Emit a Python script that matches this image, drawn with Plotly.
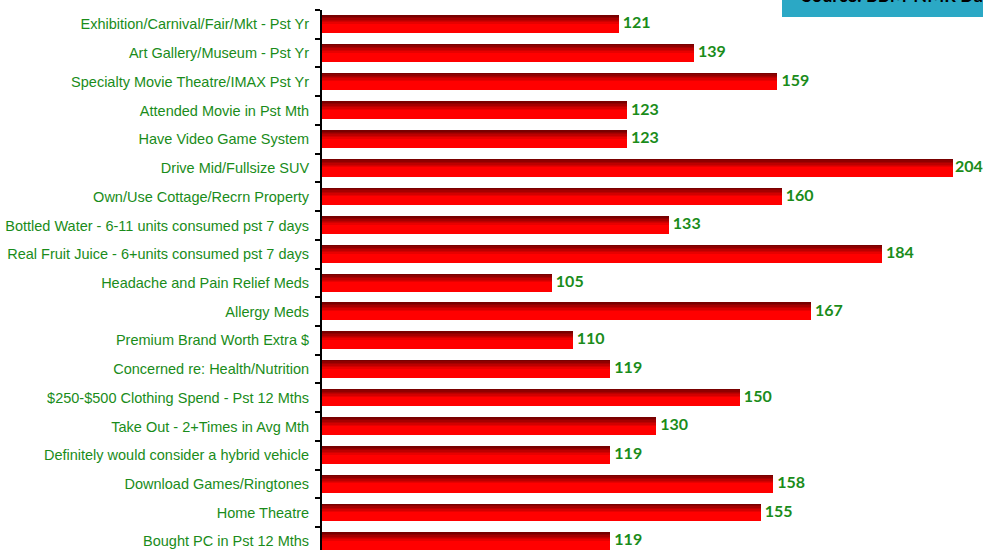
import plotly.graph_objects as go

categories = [
    "Exhibition/Carnival/Fair/Mkt - Pst Yr",
    "Art Gallery/Museum - Pst Yr",
    "Specialty Movie Theatre/IMAX Pst Yr",
    "Attended Movie in Pst Mth",
    "Have Video Game System",
    "Drive Mid/Fullsize SUV",
    "Own/Use Cottage/Recrn Property",
    "Bottled Water - 6-11 units consumed pst 7 days",
    "Real Fruit Juice - 6+units consumed pst 7 days",
    "Headache and Pain Relief Meds",
    "Allergy Meds",
    "Premium Brand Worth Extra $",
    "Concerned re: Health/Nutrition",
    "$250-$500 Clothing Spend - Pst 12 Mths",
    "Take Out - 2+Times in Avg Mth",
    "Definitely would consider a hybrid vehicle",
    "Download Games/Ringtones",
    "Home Theatre",
    "Bought PC in Pst 12 Mths",
]
values = [121, 139, 159, 123, 123, 204, 160, 133, 184, 105, 167, 110, 119, 150, 130, 119, 158, 155, 119]

X_MIN, X_MAX = 50, 201
BAR_W = 0.6
N = 12
GREEN = "#1a8c1a"

def lerp(c1, c2, t):
    return "#%02x%02x%02x" % tuple(int(round(a + (b - a) * t)) for a, b in zip(c1, c2))

dark = (0x78, 0x00, 0x00)
bright = (0xff, 0x00, 0x00)

fig = go.Figure()
grad_slices = 7
lengths = [v - X_MIN for v in values]
for i in range(N):
    t = min(1.0, i / (grad_slices - 1))
    col = lerp(dark, bright, t)
    fig.add_trace(go.Bar(
        y=categories, x=lengths, orientation="h",
        base=X_MIN,
        width=BAR_W / N + 0.002,
        offset=-BAR_W / 2 + i * BAR_W / N,
        marker=dict(color=col, line=dict(width=0)),
        hoverinfo="skip", showlegend=False,
    ))

label_x = [min(v, X_MAX) for v in values]
fig.add_trace(go.Scatter(
    y=categories, x=label_x, mode="text",
    text=[("\u2009" if v <= X_MAX else "") + "\u2009" + str(v) for v in values],
    textposition="middle right",
    textfont=dict(family="Lato", size=16, color=GREEN, weight="bold"),
    cliponaxis=False, showlegend=False, hoverinfo="skip",
))

fig.update_layout(
    width=983, height=550,
    margin=dict(l=322, r=30, t=10, b=0),
    paper_bgcolor="white", plot_bgcolor="white",
    barmode="overlay", bargap=0,
    xaxis=dict(range=[X_MIN, X_MAX], visible=False, fixedrange=True),
    yaxis=dict(
        type="category",
        range=[18.3, -0.5],
        showline=True, linecolor="black", linewidth=2,
        ticks="outside", tickson="boundaries", ticklen=5, tickwidth=2, tickcolor="black",
        tickfont=dict(family="Liberation Sans", size=14.5, color=GREEN),
        ticklabelstandoff=8,
        showgrid=False, zeroline=False,
    ),
    shapes=[dict(
        type="rect", xref="paper", yref="paper",
        x0=(782 - 322) / 631, x1=1.1, y0=1 - 7 / 540, y1=1.1,
        fillcolor="#2ba8c5", line=dict(width=0), layer="above",
    )],
    annotations=[dict(
        text="<b>Source: BBM-NMR Data</b>", xref="paper", yref="paper",
        x=(800 - 322) / 631, y=1 + 2 / 540, xanchor="left", yanchor="bottom",
        showarrow=False, font=dict(family="Lato", size=18, color="black"),
    )],
)

fig.write_html(
    "out.html",
    config={"displayModeBar": False},
    post_script="document.body.style.margin='0';document.body.style.overflow='hidden';",
)
